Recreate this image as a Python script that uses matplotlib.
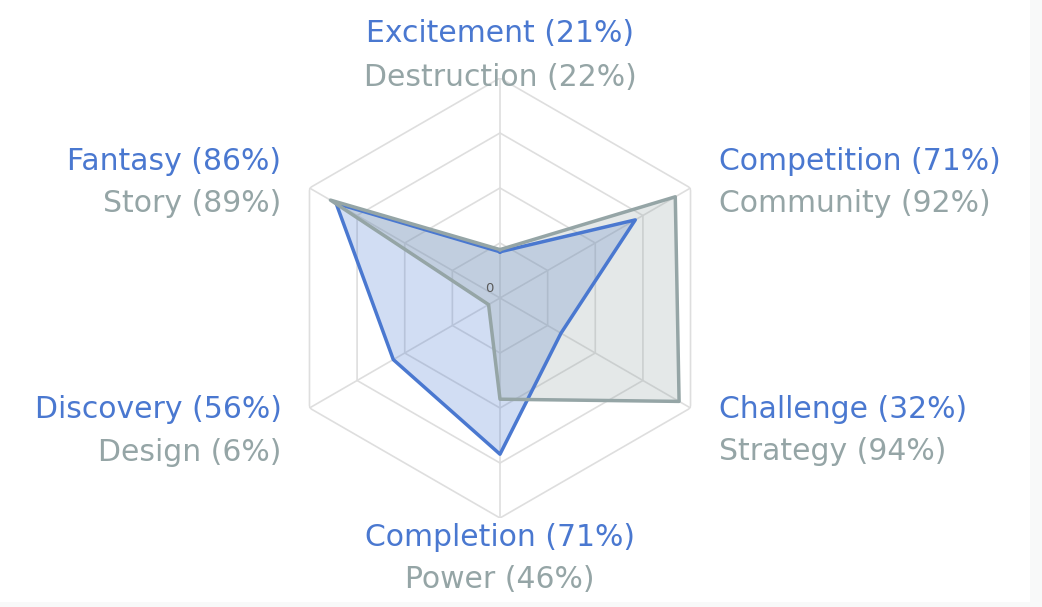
import numpy as np
import matplotlib
matplotlib.use("Agg")
import matplotlib.pyplot as plt
from matplotlib.patches import Rectangle

plt.rcParams['font.family'] = ['DejaVu Sans']

# motivations, clockwise from the top
blue_names = ["Excitement", "Competition", "Challenge", "Completion", "Discovery", "Fantasy"]
blue_values = [21, 71, 32, 71, 56, 86]
grey_names = ["Destruction", "Community", "Strategy", "Power", "Design", "Story"]
grey_values = [22, 92, 94, 46, 6, 89]
rings = [25, 50, 75, 100]

blue = "#4a78d0"
grey = "#95a5a6"
grid_col = "#dedede"

W, H = 1042, 607
fig = plt.figure(figsize=(W / 100, H / 100), dpi=100)
fig.patch.set_facecolor("#f8f9f9")
fig.patches.append(Rectangle((0, 5 / H), 1030 / W, 1 - 5 / H, transform=fig.transFigure,
                             facecolor="white", edgecolor="none", zorder=-1))

cx, cy, R = 500, H - 298, 220
ax = fig.add_axes([(cx - R) / W, (cy - R) / H, 2 * R / W, 2 * R / H], projection="polar")
ax.set_theta_offset(np.pi / 2)
ax.set_theta_direction(-1)
ax.set_ylim(0, 100)
ax.grid(False)
ax.set_xticks([])
ax.set_yticks([])
ax.spines["polar"].set_visible(False)
ax.patch.set_alpha(0)

n = len(blue_names)
angles = np.arange(n) * 2 * np.pi / n
closed = np.append(angles, angles[0])

# hexagon grid
for r in rings:
    ax.plot(closed, [r] * (n + 1), color=grid_col, lw=1.2, zorder=1)
for a in angles:
    ax.plot([a, a], [0, 100], color=grid_col, lw=1.2, zorder=1)

ax.annotate("0", xy=(0, 0), xytext=(-11, 9), textcoords="offset pixels",
            ha="center", va="center", fontsize=9.5, color="#5a5a5a")

# datasets
bv = np.append(blue_values, blue_values[0])
gv = np.append(grey_values, grey_values[0])
ax.fill(closed, bv, color=blue, alpha=0.25, lw=0, zorder=2)
ax.plot(closed, bv, color=blue, lw=2.5, zorder=3)
ax.fill(closed, gv, color=grey, alpha=0.25, lw=0, zorder=2)
ax.plot(closed, gv, color=grey, lw=2.5, zorder=4)

# point labels: (dx, dy blue, dy grey, ha)
offsets = [(0, 44, 1, "center"), (28, 26, -16, "left"), (28, -1, -44, "left"),
           (0, -19, -61, "center"), (-28, -1, -44, "right"), (-28, 26, -16, "right")]
for i, (dx, dyb, dyg, ha) in enumerate(offsets):
    ax.annotate(f"{blue_names[i]} ({blue_values[i]}%)", xy=(angles[i], 100),
                xytext=(dx, dyb), textcoords="offset pixels", ha=ha, va="center",
                fontsize=21.5, color=blue, annotation_clip=False)
    ax.annotate(f"{grey_names[i]} ({grey_values[i]}%)", xy=(angles[i], 100),
                xytext=(dx, dyg), textcoords="offset pixels", ha=ha, va="center",
                fontsize=21.5, color=grey, annotation_clip=False)

fig.savefig("out.png", dpi=100)
